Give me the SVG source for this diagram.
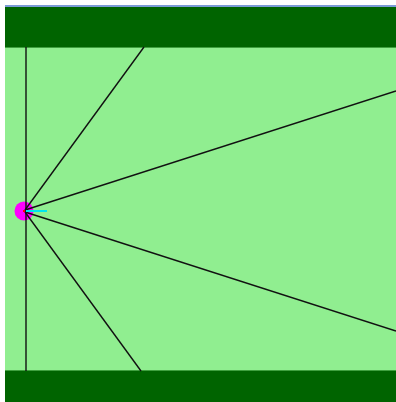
<svg xmlns="http://www.w3.org/2000/svg" width="396" height="402" viewBox="0 0 396 402">
<style>
.band{fill:#006400}
.field{fill:#90ee90}
.ray{stroke:#111;stroke-width:1.4;fill:none}
</style>
<rect width="396" height="402" fill="#ffffff"/>
<rect x="5" y="5" width="391" height="2" fill="#7b9bd6"/>
<g id="field"><rect class="field" x="5" y="47" width="391" height="324"/></g>
<g id="top-band"><rect class="band" x="5" y="7" width="391" height="40"/><rect x="5" y="47" width="391" height="1" fill="#3fa03f"/></g>
<g id="bottom-band"><rect class="band" x="5" y="371" width="391" height="31"/><rect x="5" y="370" width="391" height="1" fill="#3fa03f"/></g>
<g id="source">
<circle cx="24" cy="211" r="9.5" fill="#ff00ff"/>
</g>
<g id="connectors">
<line class="ray" x1="26" y1="47" x2="26" y2="371"/>
<line class="ray" x1="25" y1="210" x2="144" y2="47"/>
<line class="ray" x1="25" y1="210" x2="396" y2="91"/>
<line class="ray" x1="25" y1="212" x2="396" y2="331"/>
<line class="ray" x1="25" y1="212" x2="141" y2="371"/>
<line x1="26" y1="211" x2="47" y2="211" stroke="#00e5ee" stroke-width="2"/>
<rect x="23" y="210" width="2" height="2" fill="#ff0000"/>
</g>
</svg>
